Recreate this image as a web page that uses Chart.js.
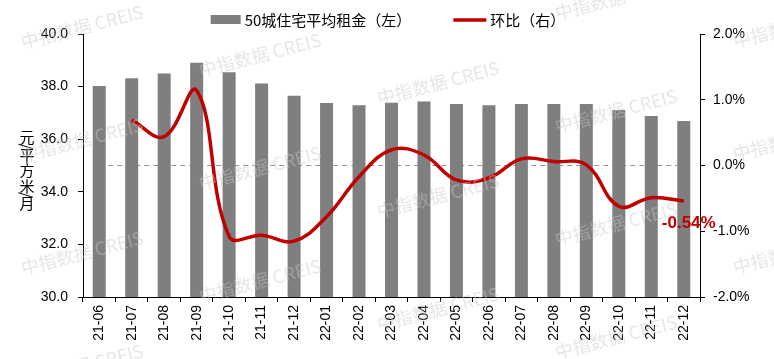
<!DOCTYPE html>
<html>
<head>
<meta charset="utf-8">
<script src="https://cdn.jsdelivr.net/npm/chart.js@4"></script>
<style>
  html, body { margin: 0; padding: 0; background: #fff; }
</style>
</head>
<body>
<canvas id="rentChart" width="774" height="359"></canvas>
<script>
// data
var months = ['21-06', '21-07', '21-08', '21-09', '21-10', '21-11', '21-12',
              '22-01', '22-02', '22-03', '22-04', '22-05', '22-06', '22-07',
              '22-08', '22-09', '22-10', '22-11', '22-12'];
var rent = [38.02, 38.32, 38.50, 38.91, 38.55, 38.12, 37.65, 37.38, 37.29, 37.39,
            37.43, 37.34, 37.29, 37.34, 37.34, 37.34, 37.11, 36.88, 36.69];
var mom = [null, 0.69, 0.44, 1.14, -1.08, -1.06, -1.15, -0.78, -0.17, 0.24,
           0.16, -0.22, -0.19, 0.10, 0.06, 0.01, -0.62, -0.49, -0.54];
var baseline = [0, 0, 0, 0, 0, 0, 0, 0, 0, 0, 0, 0, 0, 0, 0, 0, 0, 0, 0];
var leftTicks = [30, 32, 34, 36, 38, 40];
var rightTicks = [-2, -1, 0, 1, 2];

var cjk = '"Noto Sans CJK SC", "Noto Sans", sans-serif';
var latin = '"Liberation Sans", Arial, sans-serif';

var extras = {
    id: 'extras',
    beforeDraw: function (chart) {
        var ctx = chart.ctx;
        ctx.save();
        ctx.fillStyle = '#fff';
        ctx.fillRect(0, 0, chart.width, chart.height);
        ctx.restore();
    },
    afterDraw: function (chart) {
        var ctx = chart.ctx;
        var ds = chart.data.datasets;
        ctx.save();

        // legend
        ctx.font = '15px ' + cjk;
        ctx.textBaseline = 'middle';
        var t1 = ds[0].label, t2 = ds[1].label;
        var w1 = ctx.measureText(t1).width, w2 = ctx.measureText(t2).width;
        var total = 30 + 4 + w1 + 42 + 33 + 4 + w2;
        var x = 388 - total / 2, y = 20;
        ctx.fillStyle = ds[0].backgroundColor;
        ctx.fillRect(x, y - 5, 30, 9);
        ctx.fillStyle = '#000';
        ctx.fillText(t1, x + 34, y);
        x += 34 + w1 + 42;
        ctx.strokeStyle = ds[1].borderColor;
        ctx.lineWidth = 3.5;
        ctx.beginPath();
        ctx.moveTo(x, y);
        ctx.lineTo(x + 33, y);
        ctx.stroke();
        ctx.fillText(t2, x + 37, y);

        // y axis title, written top to bottom
        var title = '元/平方米/月';
        var ty = 130;
        ctx.textAlign = 'center';
        for (var i = 0; i < title.length; i++) {
            var ch = title[i];
            if (ch === '/') {
                ctx.save();
                ctx.translate(27, ty + 1);
                ctx.rotate(Math.PI / 2);
                ctx.fillText(ch, 0, 0);
                ctx.restore();
                ty += 2;
            } else {
                ctx.fillText(ch, 27, ty + 7.75);
                ty += 15.5;
            }
        }

        // value label on the last point
        var meta = chart.getDatasetMeta(1);
        var last = meta.data[meta.data.length - 1];
        ctx.font = 'bold 17px ' + latin;
        ctx.fillStyle = ds[1].borderColor;
        ctx.fillText(mom[mom.length - 1].toFixed(2) + '%', last.x + 5, last.y + 22);

        // watermark
        ctx.font = '18px ' + cjk;
        ctx.fillStyle = 'rgba(200, 200, 200, 0.45)';
        for (var k = -1; k <= 4; k++) {
            for (var m = -2; m <= 3; m++) {
                var wx = 82 + 178 * k, wy = 27 + 28 * k + 113 * m;
                if (wx < -100 || wx > 880 || wy < -30 || wy > 400) continue;
                ctx.save();
                ctx.translate(wx, wy);
                ctx.rotate(-14.5 * Math.PI / 180);
                ctx.fillText('中指数据 CREIS', 0, 0);
                ctx.restore();
            }
        }
        ctx.restore();
    }
};

var ctx = document.getElementById('rentChart').getContext('2d');
var chart = new Chart(ctx, {
    type: 'bar',
    data: {
        labels: months,
        datasets: [{
            label: '50城住宅平均租金（左）',
            data: rent,
            backgroundColor: 'rgb(127, 127, 127)',
            yAxisID: 'y',
            categoryPercentage: 1,
            barPercentage: 0.4,
            order: 2
        }, {
            type: 'line',
            label: '环比（右）',
            data: mom,
            borderColor: 'rgb(192, 0, 0)',
            borderWidth: 3.5,
            pointRadius: 0,
            tension: 0.4,
            fill: false,
            yAxisID: 'y1',
            order: 1
        }, {
            type: 'line',
            label: 'zero',
            data: baseline,
            borderColor: 'rgb(150, 150, 150)',
            borderWidth: 1,
            borderDash: [5, 4],
            pointRadius: 0,
            fill: false,
            yAxisID: 'y1',
            order: 3
        }]
    },
    options: {
        responsive: false,
        animation: false,
        devicePixelRatio: 1,
        layout: { padding: { top: 34, left: 0, right: 0, bottom: 0 } },
        plugins: {
            legend: { display: false },
            tooltip: { enabled: false }
        },
        scales: {
            x: {
                offset: true,
                grid: { offset: true, drawOnChartArea: false, tickLength: 5, color: '#000' },
                border: { color: '#000' },
                ticks: {
                    autoSkip: false, minRotation: 90, maxRotation: 90, padding: 3,
                    color: '#000', font: { family: latin, size: 14 }
                },
                afterFit: function (s) { s.height = 62; }
            },
            y: {
                position: 'left',
                min: 30, max: 40,
                afterBuildTicks: function (s) { s.ticks = leftTicks.map(function (v) { return { value: v }; }); },
                grid: { drawOnChartArea: false, tickLength: 5, color: '#000' },
                border: { color: '#000' },
                ticks: {
                    padding: 10, color: '#000', font: { family: latin, size: 14 },
                    callback: function (v) { return v.toFixed(1); }
                },
                afterFit: function (s) { s.width = 83; }
            },
            y1: {
                position: 'right',
                min: -2, max: 2,
                afterBuildTicks: function (s) { s.ticks = rightTicks.map(function (v) { return { value: v }; }); },
                grid: { drawOnChartArea: false, tickLength: 5, color: '#000' },
                border: { color: '#000' },
                ticks: {
                    padding: 8, color: '#000', font: { family: latin, size: 14 },
                    callback: function (v) { return v.toFixed(1) + '%'; }
                },
                afterFit: function (s) { s.width = 74; }
            }
        }
    },
    plugins: [extras]
});
</script>
</body>
</html>
